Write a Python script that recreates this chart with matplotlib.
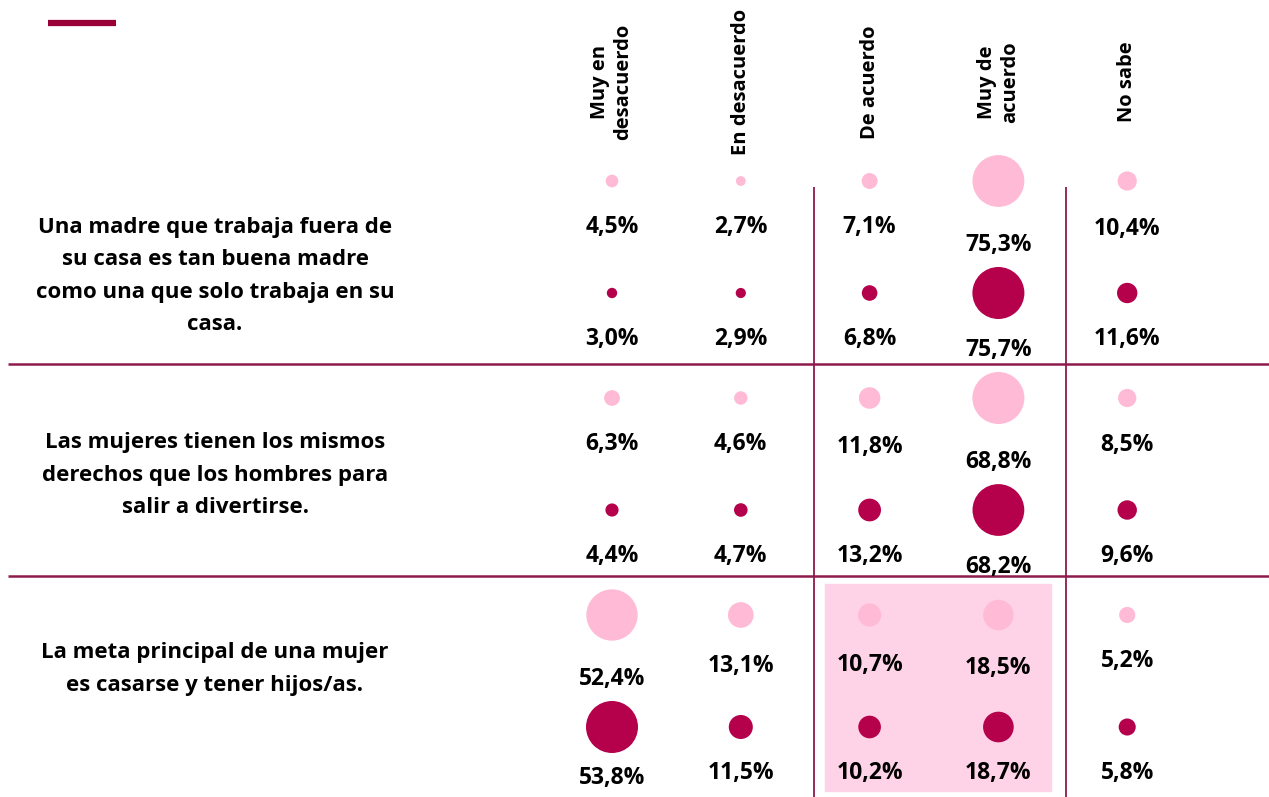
import numpy as np
import matplotlib
matplotlib.use("Agg")
import matplotlib.pyplot as plt
from matplotlib.patches import Rectangle

plt.rcParams['font.family'] = ['Open Sans', 'DejaVu Sans']

# data
columns = ["Muy en\ndesacuerdo", "En desacuerdo", "De acuerdo", "Muy de\nacuerdo", "No sabe"]
statements = [
    "Una madre que trabaja fuera de\nsu casa es tan buena madre\ncomo una que solo trabaja en su\ncasa.",
    "Las mujeres tienen los mismos\nderechos que los hombres para\nsalir a divertirse.",
    "La meta principal de una mujer\nes casarse y tener hijos/as.",
]
serie_clara = [
    [4.5, 2.7, 7.1, 75.3, 10.4],
    [6.3, 4.6, 11.8, 68.8, 8.5],
    [52.4, 13.1, 10.7, 18.5, 5.2],
]
serie_oscura = [
    [3.0, 2.9, 6.8, 75.7, 11.6],
    [4.4, 4.7, 13.2, 68.2, 9.6],
    [53.8, 11.5, 10.2, 18.7, 5.8],
]

LIGHT = "#FFBAD6"
DARK = "#B5004B"
LINE = "#8E1B4C"
HILITE = "#FFD3E7"

W, H = 1269, 797
fig = plt.figure(figsize=(W / 100, H / 100), dpi=100)
ax = fig.add_axes([0, 0, 1, 1])
ax.set_xlim(0, W)
ax.set_ylim(H, 0)
ax.axis("off")

# layout (pixels)
col_x = 612 + 128.8 * np.arange(len(columns))
group_y0 = 181
group_dy = 217
series_dy = 112
max_diam = 52

# highlighted block (last statement, "De acuerdo" + "Muy de acuerdo")
ax.add_patch(Rectangle((825, 584), 226, 207, color=HILITE, zorder=0))

# top accent bar
ax.plot([48, 116], [23, 23], color="#990038", lw=4.5, solid_capstyle="butt")

# grid lines
for y in [364, 576]:
    ax.plot([8, W], [y, y], color=LINE, lw=1.8, solid_capstyle="butt")
for x in [814, 1066]:
    ax.plot([x, x], [187, H], color=LINE, lw=1.3, solid_capstyle="butt")

# column headers
for x, c in zip(col_x, columns):
    ax.text(x, 82, c, rotation=90, ha="center", va="center", multialignment="center",
            fontsize=14.5, fontweight="bold", linespacing=1.2, color="black")

# bubbles and labels
for g, stmt in enumerate(statements):
    rowmax = max(max(serie_clara[g]), max(serie_oscura[g]))
    for s, (vals, col) in enumerate([(serie_clara[g], LIGHT), (serie_oscura[g], DARK)]):
        y = group_y0 + group_dy * g + series_dy * s
        vals = np.array(vals)
        diam = max_diam * np.sqrt(vals / rowmax)
        ax.scatter(col_x, np.full(len(vals), y), s=(diam * 0.72) ** 2, color=col,
                   edgecolors="none", zorder=3)
        for x, v, d in zip(col_x, vals, diam):
            off = max(46, d / 2 + (38 if s == 0 else 31))
            ty = min(y + off, 778)
            ax.text(x, ty, f"{v:.1f}%".replace(".", ","), ha="center", va="center",
                    fontsize=16.5, fontweight="bold", color="black", zorder=4)
    ty = [276, 475, 669][g]
    ax.text(215, ty, stmt, ha="center", va="center", multialignment="center",
            fontsize=16, fontweight="bold", linespacing=1.72, color="black")

fig.savefig("out.png", dpi=100)
